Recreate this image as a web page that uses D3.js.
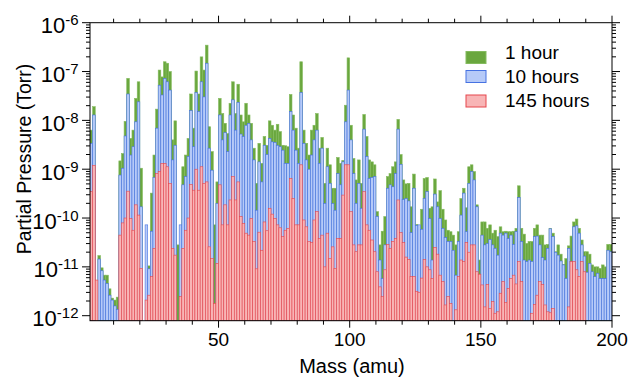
<!DOCTYPE html>
<html>
<head>
<meta charset="utf-8">
<script src="https://cdn.jsdelivr.net/npm/d3@7"></script>
<style>
  body { margin: 0; background: #fff; }
  svg { display: block; font-family: "Liberation Sans", Arial, sans-serif; }
</style>
</head>
<body>
<div id="chart"></div>
<script>
// one bar per mass, bar for mass m spans [m, m+1]
const masses = d3.range(1, 200);

// log10 of partial pressure (Torr); null = no bar
const log1h = [
  -8.20,-7.72,null,-10.77,-11.02,-11.17,-11.17,-11.45,-11.64,-11.68,
  -11.62,-8.83,-8.68,-8.02,-7.14,-8.37,-8.20,-7.55,-7.21,-8.98,
  null,null,-10.98,-9.49,-8.71,-7.77,-6.97,-7.11,-6.80,-6.83,
  -7.00,-8.40,-8.01,-10.55,null,-8.95,-8.71,-8.37,-7.46,-8.16,
  -6.99,-7.46,-6.70,-6.97,-6.46,-8.13,-8.64,-10.14,-9.26,-7.55,
  -7.86,-8.06,-8.27,-7.65,-7.21,-7.86,-7.26,-7.89,-8.03,-7.65,
  -7.89,-8.06,-8.57,-9.29,-8.47,-8.88,-8.33,-8.51,-8.01,-8.10,
  -8.20,-8.08,-8.23,-8.51,-8.52,-8.54,-7.47,-7.89,-8.16,-8.57,
  -6.80,-8.20,-8.47,-8.71,-8.20,-8.10,-7.86,-8.57,-8.35,-9.29,
  -8.57,-8.91,-9.39,-9.39,-8.76,-8.88,-8.82,-7.69,-6.72,-8.10,
  -8.78,-9.22,-8.81,-9.29,-7.88,-8.33,-8.81,-8.85,-8.91,-9.87,
  -10.55,-10.27,-9.97,-9.15,-9.09,-8.95,-8.85,-7.98,-8.70,-9.22,
  -9.30,-9.29,-9.77,-9.10,-10.13,null,-9.82,-9.19,-9.17,-9.80,
  -9.77,-9.20,-9.67,-9.44,-9.82,-10.04,-10.25,-10.28,-10.35,-10.55,
  -10.28,-9.60,-9.39,-9.79,-8.95,-8.91,-9.05,-9.73,-10.86,-10.08,
  -10.08,-10.21,-10.14,-10.31,-10.25,-10.38,-10.18,-10.28,-10.27,-10.28,
  -10.28,-10.27,-10.21,-9.34,-10.21,-10.33,-10.52,-10.48,-10.48,-10.21,
  -10.14,-10.35,-10.35,-10.55,-10.54,-10.21,-10.31,-10.69,-10.55,-10.74,
  -10.95,-10.83,-10.57,-10.37,-10.08,-10.02,-10.21,-10.45,-10.69,-10.69,
  -10.74,-10.96,-11.00,-11.00,-11.03,-10.96,-11.00,-10.54,-10.54
];
const log10h = [
  -8.47,-7.89,null,-10.84,-11.08,-11.27,-11.34,-11.58,-11.68,-11.80,
  -11.87,-9.12,-8.98,-8.32,-7.46,-8.71,-8.54,-8.03,-7.62,-9.77,
  null,-10.14,-11.04,-10.27,-9.17,-8.16,-7.28,-7.48,-7.14,-7.21,
  -7.38,-8.81,-8.51,null,-10.14,-9.32,-9.15,-8.74,-7.80,-8.54,
  -7.43,-7.82,-7.21,-7.52,-6.83,-8.57,-9.02,null,-9.70,-7.89,
  -8.40,-8.25,-8.64,-7.89,-7.58,-8.20,-7.63,-8.28,-8.33,-8.10,
  -8.06,-8.40,-8.81,-9.84,-8.85,-9.26,-8.51,-8.70,-8.37,-8.44,
  -8.45,-8.51,-8.54,-8.61,-8.88,-8.88,-7.82,-8.20,-8.61,-8.88,
  -7.43,-8.47,-8.81,-9.00,-8.71,-8.40,-8.20,-8.88,-8.57,-9.70,
  -8.95,-9.29,-9.70,-9.84,-9.09,-9.32,-8.85,-8.03,-7.38,-8.40,
  -9.09,-9.70,-9.29,-9.80,-8.18,-8.74,-9.19,-9.17,-9.15,-9.97,
  -10.86,-11.24,-10.55,-9.39,-9.32,-9.36,-9.09,-8.18,-8.90,-9.62,
  -9.60,-9.65,-10.30,-9.39,-10.15,-10.14,-10.23,-9.60,-9.46,-10.01,
  -10.86,-9.51,-9.77,-10.01,-10.21,-10.40,-10.48,-10.48,-10.66,-11.17,
  -10.48,-9.94,-9.49,-10.28,-9.29,-9.05,-9.22,-9.77,-11.30,-10.35,
  -10.55,-10.52,-10.44,-10.55,-10.62,-10.76,-10.31,-10.35,-10.31,-10.42,
  -10.35,-10.54,-10.28,-9.58,-10.48,-10.86,-10.89,-10.86,-10.89,-10.38,
  -10.37,-10.55,-10.81,-10.86,-10.62,-10.22,-10.38,-10.70,-10.76,-10.88,
  -10.96,-11.24,-10.62,-10.89,-10.18,-10.16,-10.31,-10.55,-10.78,-11.11,
  -10.93,-11.10,-11.20,-11.13,-11.24,-11.24,-11.24,-10.66,-10.69
];
const log145h = [
  -9.46,-8.92,-11.27,null,null,null,null,null,null,null,
  null,-10.35,-10.10,-10.00,-9.45,-10.01,-10.25,-9.73,-9.94,-11.03,
  null,-11.68,-11.58,-11.20,-10.62,-9.09,-9.05,-8.88,-8.88,-8.95,
  -9.29,-10.62,-10.76,null,-11.61,-10.62,-10.25,-10.00,-9.31,-9.43,
  -9.00,-9.43,-8.95,-9.29,-9.26,-10.59,-10.83,-11.75,-10.93,-9.32,
  -10.14,-9.73,-10.14,-9.63,-9.15,-9.63,-9.26,-9.97,-10.11,-10.31,
  -10.35,-10.01,-10.48,-11.04,-10.29,-10.66,-10.08,-10.26,-9.80,-9.92,
  -10.01,-10.14,-10.20,-10.38,-10.25,-10.21,-9.19,-9.60,-10.14,-10.14,
  -8.91,-10.04,-10.18,-10.48,-10.50,-10.04,-9.87,-10.42,-10.35,-11.00,
  -10.31,-10.83,-10.59,-11.03,-10.42,-10.42,-9.53,-8.91,-8.91,-9.87,
  -10.55,-10.69,-10.55,-10.55,-9.46,-10.14,-10.25,-10.45,-10.69,-11.10,
  -11.41,-11.61,-11.06,-10.54,-10.62,-10.48,-10.42,-9.63,-10.30,-10.50,
  -10.80,-10.85,-11.20,-11.20,-11.50,-11.52,-11.23,-10.85,-11.00,-11.06,
  -11.24,-10.60,-10.74,-11.17,-11.30,-11.78,-11.61,-11.75,null,-11.88,
  -11.20,-10.86,-10.89,-10.50,-10.70,-10.55,-10.55,-11.10,-11.15,-11.37,
  -11.82,-11.36,-11.85,-11.71,-11.95,-11.92,-11.54,-11.30,-11.73,-11.44,
  -11.24,-11.17,-11.35,-10.89,-11.30,null,null,null,-11.95,-11.77,
  -11.58,-11.30,-11.36,-11.78,-11.92,-11.94,-11.85,null,null,null,
  null,null,-11.82,-10.89,-10.89,-11.06,-11.20,-10.89,-11.10,null,
  null,null,null,null,null,null,null,null,null
];

const seriesNames = ["1 hour", "10 hours", "145 hours"];
const xTickLabels = [50, 100, 150, 200];
const yDecades = [-12, -11, -10, -9, -8, -7, -6];

const width = 631, height = 381;
const margin = {top: 22.7, right: 19, bottom: 60.3, left: 90};

const series = [
  {name: seriesNames[0], logs: log1h, fill: "#6aa73e", stroke: "#84bb5e"},
  {name: seriesNames[1], logs: log10h, fill: "#b6caf8", stroke: "#4672e2"},
  {name: seriesNames[2], logs: log145h, fill: "#f8b5b6", stroke: "#e6464c"}
];

const x = d3.scaleLinear()
    .domain([1, 200])
    .range([margin.left, width - margin.right]);

const y = d3.scaleLog()
    .domain([7.9e-13, 1e-6])
    .range([height - margin.bottom, margin.top]);

const svg = d3.select("#chart").append("svg")
    .attr("width", width)
    .attr("height", height);

svg.append("defs").append("clipPath").attr("id", "plot")
  .append("rect")
    .attr("x", x(1)).attr("y", y(1e-6))
    .attr("width", x(200) - x(1))
    .attr("height", y.range()[0] - y.range()[1]);

const bars = svg.append("g").attr("clip-path", "url(#plot)");

series.forEach(s => {
  const rows = masses
    .map((m, i) => ({m, v: s.logs[i] == null ? null : Math.pow(10, s.logs[i])}))
    .filter(d => d.v != null);
  bars.append("g")
      .attr("fill", s.fill)
      .attr("stroke", s.stroke)
      .attr("stroke-width", 0.6)
    .selectAll("rect")
    .data(rows)
    .join("rect")
      .attr("x", d => x(d.m))
      .attr("width", d => x(d.m + 1) - x(d.m))
      .attr("y", d => y(d.v))
      .attr("height", d => y.range()[0] - y(d.v));
});

// frame
svg.append("rect")
    .attr("x", x(1)).attr("y", y(1e-6))
    .attr("width", x(200) - x(1))
    .attr("height", y.range()[0] - y.range()[1])
    .attr("fill", "none")
    .attr("stroke", "#000")
    .attr("stroke-width", 1);

// x ticks (outward, bottom and top)
const minorX = d3.range(10, 201, 10).filter(v => v % 50 !== 0);
const xAxes = [
  {y0: y.range()[0], dir: 1},
  {y0: y.range()[1], dir: -1}
];
xAxes.forEach(a => {
  svg.append("g").selectAll("line")
    .data(xTickLabels.map(v => ({v, len: 7})).concat(minorX.map(v => ({v, len: 4}))))
    .join("line")
      .attr("x1", d => x(d.v)).attr("x2", d => x(d.v))
      .attr("y1", a.y0).attr("y2", d => a.y0 + a.dir * d.len)
      .attr("stroke", "#000").attr("stroke-width", 1);
});

svg.append("g")
    .attr("font-size", 19)
    .attr("text-anchor", "middle")
  .selectAll("text")
  .data(xTickLabels)
  .join("text")
    .attr("x", d => x(d))
    .attr("y", 346)
    .text(d => d);

// y ticks (outward, left and right)
const yTicks = [];
yDecades.forEach(e => {
  yTicks.push({v: Math.pow(10, e), len: 8});
  if (e < -6) d3.range(2, 10).forEach(k => yTicks.push({v: k * Math.pow(10, e), len: 4}));
});
const yAxes = [
  {x0: x(1), dir: -1},
  {x0: x(200), dir: 1}
];
yAxes.forEach(a => {
  svg.append("g").selectAll("line")
    .data(yTicks)
    .join("line")
      .attr("x1", a.x0).attr("x2", d => a.x0 + a.dir * d.len)
      .attr("y1", d => y(d.v)).attr("y2", d => y(d.v))
      .attr("stroke", "#000").attr("stroke-width", 1);
});

const yLab = svg.append("g").attr("text-anchor", "end")
  .selectAll("text")
  .data(yDecades)
  .join("text")
    .attr("x", 78.5)
    .attr("y", d => y(Math.pow(10, d)) + 10.5);
yLab.append("tspan").attr("font-size", 22).text("10");
yLab.append("tspan").attr("font-size", 15).attr("dy", -8).text(d => d);

// axis titles
svg.append("text")
    .attr("x", (x(1) + x(200)) / 2 + 1)
    .attr("y", 373)
    .attr("text-anchor", "middle")
    .attr("font-size", 20)
    .text("Mass (amu)");

svg.append("text")
    .attr("transform", "translate(31,159) rotate(-90)")
    .attr("text-anchor", "middle")
    .attr("font-size", 19.5)
    .text("Partial Pressure (Torr)");

// legend
const legend = svg.append("g");
const legRows = [
  {box: 51.5, base: 58.5},
  {box: 70.5, base: 83},
  {box: 95, base: 107}
];
series.forEach((s, i) => {
  legend.append("rect")
      .attr("x", 466).attr("y", legRows[i].box)
      .attr("width", 20).attr("height", 12)
      .attr("fill", s.fill)
      .attr("stroke", s.stroke)
      .attr("stroke-width", 1);
  legend.append("text")
      .attr("x", 505).attr("y", legRows[i].base)
      .attr("font-size", 19)
      .text(s.name);
});
</script>
</body>
</html>
